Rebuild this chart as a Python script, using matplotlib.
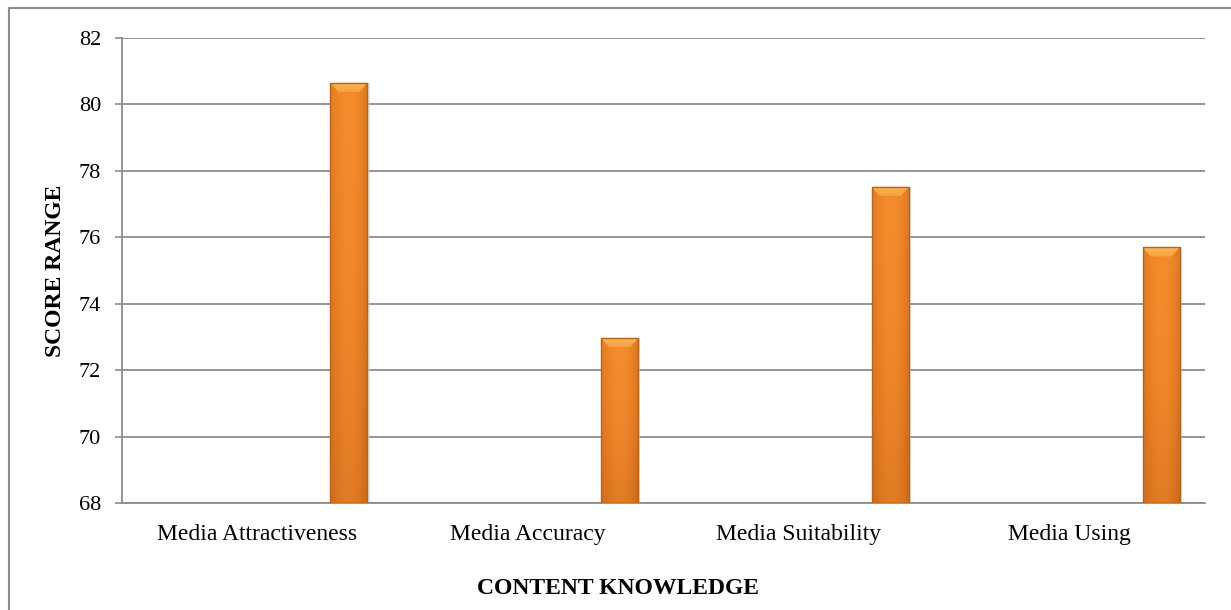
import matplotlib
matplotlib.use("Agg")
import matplotlib.pyplot as plt
import numpy as np
from matplotlib.patches import Polygon, Rectangle
from matplotlib.lines import Line2D
from matplotlib.colors import LinearSegmentedColormap

categories = ["Media Attractiveness", "Media Accuracy", "Media Suitability", "Media Using"]
values = [80.65, 72.97, 77.52, 75.70]
yticks = [68, 70, 72, 74, 76, 78, 80, 82]
ylabel = "SCORE RANGE"
xlabel = "CONTENT KNOWLEDGE"

plt.rcParams['font.family'] = ['Liberation Serif', 'DejaVu Serif']

W, H = 1231, 610
fig = plt.figure(figsize=(W / 100, H / 100), dpi=100)
ax = fig.add_axes([122 / W, 1 - 503 / H, (1205 - 122) / W, (503 - 38) / H])

ymin, ymax = yticks[0], yticks[-1]
x = np.arange(len(categories))
offset = 0.338
width = 0.137

bars = ax.bar(x + offset, [v - ymin for v in values], width, bottom=ymin,
              color='#F28A2C', edgecolor='none', zorder=3)

cmap = LinearSegmentedColormap.from_list('o', ['#D5711F', '#F1862A', '#F8902E'])
side_cmap = LinearSegmentedColormap.from_list('s', ['#C9661A', '#E07A24', '#F28A2C', '#F28A2C', '#E07A24', '#B85C14'])
bevel_cmap = LinearSegmentedColormap.from_list('b', ['#F7A040', '#FCB855'])

for b in bars:
    x0, y0 = b.get_x(), b.get_y()
    w, h = b.get_width(), b.get_height()
    x1, y1 = x0 + w, y0 + h
    grad = np.linspace(0, 1, 256).reshape(-1, 1)
    im = ax.imshow(grad, extent=(x0, x1, y0, y1), origin='lower', cmap=cmap,
                   aspect='auto', zorder=3.1)
    im.set_clip_path(b)
    hgrad = np.linspace(0, 1, 64).reshape(1, -1)
    im2 = ax.imshow(hgrad, extent=(x0, x1, y0, y1), origin='lower', cmap=side_cmap,
                    aspect='auto', zorder=3.2, alpha=0.45)
    im2.set_clip_path(b)
    dx = w * 0.22
    dy = (ymax - ymin) * 0.02
    bevel = Polygon([(x0, y1), (x1, y1), (x1 - dx, y1 - dy), (x0 + dx, y1 - dy)],
                    closed=True, facecolor='none', edgecolor='none', zorder=3.3)
    ax.add_patch(bevel)
    bg = np.linspace(0, 1, 32).reshape(-1, 1)
    im3 = ax.imshow(bg, extent=(x0, x1, y1 - dy, y1), origin='lower', cmap=bevel_cmap,
                    aspect='auto', zorder=3.3)
    im3.set_clip_path(bevel)
    edge = Rectangle((x0, y0), w, h, facecolor='none', edgecolor='#B8641C',
                     linewidth=1.0, zorder=3.4)
    ax.add_patch(edge)
    sh = Rectangle((x1, y0), w * 0.06, h, facecolor='#CFCFCF', edgecolor='none',
                   alpha=0.6, zorder=2.5)
    ax.add_patch(sh)

ax.set_xlim(-0.5, len(categories) - 0.5)
ax.set_ylim(ymin, ymax)
ax.set_yticks(yticks)
ax.set_xticks(x)
ax.set_xticklabels(categories, fontsize=17)
ax.tick_params(axis='x', length=0, pad=15)
ax.tick_params(axis='y', labelsize=16, length=5, width=1.2, color='#8C8C8C', pad=10)
ax.yaxis.grid(True, color='#8C8C8C', linewidth=1.3, zorder=1)
ax.set_axisbelow(True)
for s in ['top', 'right']:
    ax.spines[s].set_visible(False)
for s in ['left', 'bottom']:
    ax.spines[s].set_color('#8C8C8C')
    ax.spines[s].set_linewidth(1.3)

fig.text(56 / W, 1 - 270.5 / H, ylabel, rotation=90, ha='center', va='center',
         fontsize=17, fontweight='bold')
fig.text(618 / W, 1 - 589 / H, xlabel, ha='center', va='center',
         fontsize=17, fontweight='bold')

fig.add_artist(Line2D([9 / W, 9 / W, 1.0], [0.0, 1 - 8 / H, 1 - 8 / H],
                      transform=fig.transFigure, color='#8C8C8C', linewidth=1.5))

fig.savefig('out.png', dpi=100)
